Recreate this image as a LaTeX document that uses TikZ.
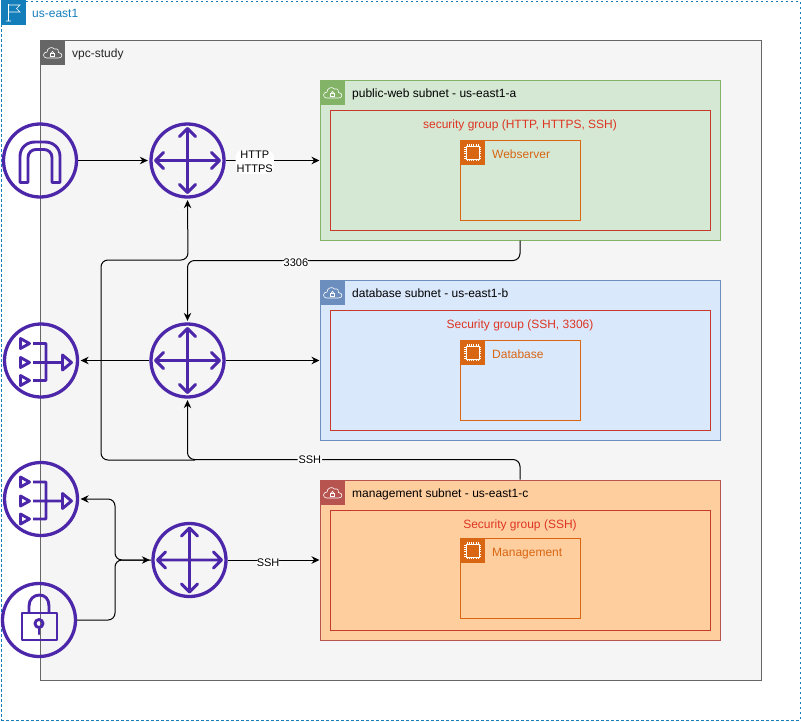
\documentclass[tikz,border=0pt]{standalone}
\usepackage{fontspec}
\setmainfont{Liberation Sans}
\usetikzlibrary{arrows.meta}
\definecolor{awspurple}{HTML}{4D27AA}
\definecolor{regionblue}{HTML}{147EBA}
\definecolor{sgred}{HTML}{DD3522}
\definecolor{sgline}{HTML}{C7392B}
\definecolor{ec2}{HTML}{D86613}
\tikzset{
  base/.style={font=\fontsize{12}{14}\selectfont,text height=9pt,text depth=3pt},
  lbl/.style={base,anchor=west,inner sep=0pt,text=black!85},
  sglabel/.style={base,anchor=center,inner sep=0pt,text=sgred},
  inlabel/.style={base,anchor=west,inner sep=0pt,text=ec2},
  edge/.style={font=\fontsize{11}{14}\selectfont,fill=white,inner sep=1pt,align=center,text=black},
  conn/.style={draw=black,line width=1pt,rounded corners=7pt,shorten >=1.5pt,-{Stealth[length=8pt,width=7.5pt]}},
  toSubnet/.style={shorten >=0pt},
  sn/.style={draw,line width=1pt,minimum width=400pt,minimum height=160pt,inner sep=0pt},
  sg/.style={draw=sgline,line width=1pt,minimum width=380pt,minimum height=120pt,inner sep=0pt},
  inst/.style={draw=ec2,line width=1pt,minimum width=120pt,minimum height=80pt,inner sep=0pt},
  ring/.style={circle,draw=awspurple,line width=3.3pt,minimum size=73pt,inner sep=0pt},
  ico/.style={draw=awspurple,line width=2.9pt,line join=round},
  router/.pic={
    \draw[ico,line cap=round] (-32,0)--(32,0) (0,-32)--(0,32)
      (-24,-8)--(-32,0)--(-24,8) (24,-8)--(32,0)--(24,8)
      (-8,-24)--(0,-32)--(8,-24) (-8,24)--(0,32)--(8,24);
  },
  gatewayicon/.pic={
    \draw[ico] (-20,22)--(-20,-4) .. controls (-20,-13) and (-13,-18.5) .. (-5,-18.5)
      -- (5,-18.5) .. controls (13,-18.5) and (20,-13) .. (20,-4) -- (20,22) -- (12,22) -- (12,-3)
      .. controls (12,-8) and (8,-11) .. (4,-11) -- (-4,-11) .. controls (-8,-11) and (-12,-8) .. (-12,-3)
      -- (-12,22) -- cycle;
  },
  naticon/.pic={
    \draw[ico] (-20.5,-22)--(-11.5,-17)--(-20.5,-12)--cycle
      (-20.5,-3)--(-11.5,2)--(-20.5,7)--cycle
      (-20.5,15)--(-11.5,20)--(-20.5,25)--cycle
      (-8,-17)--(5,-17)--(5,20)--(-8,20)
      (-8,2)--(21,2) (21.5,-5.5)--(30.5,2)--(21.5,9.5)--cycle;
  },
  lockicon/.pic={
    \draw[ico] (-17,-7) rectangle (18,20);
    \draw[ico] (-10,-7)--(-10,-14) .. controls (-10,-21) and (-5,-25) .. (0.5,-25)
      .. controls (6,-25) and (10,-21) .. (10,-14) -- (10,-7);
    \draw[ico] (0,3.5) circle (4);
    \draw[ico,line cap=round] (0,7.5)--(0,14);
  },
  cloudlock/.pic={
    \fill[pic actions] (0,0) rectangle (25,25);
    \draw[white,line width=.6pt] (6.5,18) .. controls (2.5,18) and (2.5,12) .. (7,12)
      .. controls (7,8) and (12,6) .. (14.5,9) .. controls (18,8) and (19,11) .. (18.5,12.5)
      .. controls (23,13) and (23,18) .. (18.5,18) -- cycle;
    \draw[white,line width=.6pt] (10.5,13) rectangle (14.5,16.5);
    \draw[white,line width=.6pt] (11.3,13) .. controls (11.3,10.7) and (13.7,10.7) .. (13.7,13);
  },
  chip/.pic={
    \fill[ec2] (0,0) rectangle (25,25);
    \draw[white,line width=.6pt] (6,6) rectangle (19,19);
    \foreach \t in {7,9.2,11.4,13.6,15.8,18}{
      \draw[white,line width=.5pt] (\t,4)--(\t,6) (\t,19)--(\t,21) (4,\t)--(6,\t) (19,\t)--(21,\t);
    }
  },
  flagpic/.pic={
    \fill[regionblue] (0,0) rectangle (25,25);
    \draw[white,line width=.7pt] (5,21)--(10,21) (7.5,21)--(7.5,4)
      (7.5,5)--(19,5)--(15.5,8.5)--(19,12)--(7.5,12);
  }
}
\begin{document}
\begin{tikzpicture}[x=1pt,y=-1pt]
\useasboundingbox (0,0) rectangle (801,721);
% region
\node[draw=regionblue,dash pattern=on 2.5pt off 2.5pt,line width=1pt,minimum width=799pt,minimum height=719pt,inner sep=0pt] (region) at (400.5,360.5) {};
\pic at (1,0) {flagpic};
\node[lbl,text=regionblue] (regionlabel) at (32,14.5) {us-east1};
% vpc
\node[draw=black!60,fill=black!4,line width=1pt,minimum width=721pt,minimum height=640pt,inner sep=0pt] (vpc) at (400.5,360.5) {};
\pic[fill=black!60] at (40,40) {cloudlock};
\node[lbl] (vpclabel) at (72,54.8) {vpc-study};
% public
\node[sn,draw={rgb,255:red,130;green,179;blue,102},fill={rgb,255:red,213;green,232;blue,212}] (pub) at (520,160) {};
\pic[fill={rgb,255:red,130;green,179;blue,102}] at (320,80) {cloudlock};
\node[lbl,text=black] (publabel) at (352,94.7) {public-web subnet - us-east1-a};
\node[sg] (sg1) at (520,170) {};
\node[sglabel] (sg1label) at (520,125.3) {security group (HTTP, HTTPS, SSH)};
\node[inst] (web) at (520,180) {};
\pic at (460,140) {chip};
\node[inlabel] (weblabel) at (492,155.3) {Webserver};
% database
\node[sn,draw={rgb,255:red,108;green,142;blue,191},fill={rgb,255:red,218;green,232;blue,252}] (dbnet) at (520,360) {};
\pic[fill={rgb,255:red,108;green,142;blue,191}] at (320,280) {cloudlock};
\node[lbl,text=black] (dblabel) at (352,294.7) {database subnet - us-east1-b};
\node[sg] (sg2) at (520,370) {};
\node[sglabel] (sg2label) at (520,325.3) {Security group (SSH, 3306)};
\node[inst] (db) at (520,380) {};
\pic at (460,340) {chip};
\node[inlabel] (dbtext) at (492,355.3) {Database};
% management
\node[sn,draw={rgb,255:red,184;green,84;blue,80},fill={rgb,255:red,255;green,206;blue,159}] (mgnet) at (520,560) {};
\pic[fill={rgb,255:red,184;green,84;blue,80}] at (320,480) {cloudlock};
\node[lbl,text=black] (mglabel) at (352,494.7) {management subnet - us-east1-c};
\node[sg] (sg3) at (520,570) {};
\node[sglabel] (sg3label) at (520,525.3) {Security group (SSH)};
\node[inst] (mg) at (520,578) {};
\pic at (460,538) {chip};
\node[inlabel] (mgtext) at (492,553) {Management};
% icons
\node[ring] (gw) at (40,160.5) {};
\pic at (40,160.5) {gatewayicon};
\node[ring] (nat1) at (41,360.5) {};
\pic at (41,360.5) {naticon};
\node[ring] (nat2) at (41,499) {};
\pic at (41,499) {naticon};
\node[ring] (vpn) at (39,620) {};
\pic at (39,620) {lockicon};
\node[ring] (r1) at (187.5,160.5) {};
\pic at (187.5,160.5) {router};
\node[ring] (r2) at (187.5,360.5) {};
\pic at (187.5,360.5) {router};
\node[ring] (r3) at (189.5,560) {};
\pic at (189.5,560) {router};
% connectors
\coordinate (j1) at (115,560);
\coordinate (j2) at (195,460);
\coordinate (busleft) at (101,460);
\draw[conn,toSubnet] (r1) -- node[edge,pos=.31,yshift=-1.5pt]{HTTP\\HTTPS} (pub.west |- r1);
\draw[conn] (gw) -- (r1);
\draw[conn] (pub.south) -- ++(0,20) -| node[edge,pos=.337,yshift=-2pt]{3306} (r2.north);
\draw[conn] (mgnet.north) -- ++(0,-20) -| node[edge,pos=.316]{SSH} (r2.south);
\draw[conn] (j2) -- (busleft) |- ++(87,-200) -- (r1.south);
\draw[conn,toSubnet] (r2) -- (dbnet.west |- r2);
\draw[conn] (r2) -- (nat1);
\draw[conn,toSubnet] (r3) -- node[edge,pos=.44,yshift=-3pt]{SSH} (mgnet.west |- r3);
\draw[conn] (vpn) -| (j1) -- (r3);
\draw[conn,shorten >=0pt,shorten <=1.5pt,{Stealth[length=8pt,width=7.5pt]}-] (nat2) -| (j1) -- (r3.west);
\end{tikzpicture}
\end{document}
